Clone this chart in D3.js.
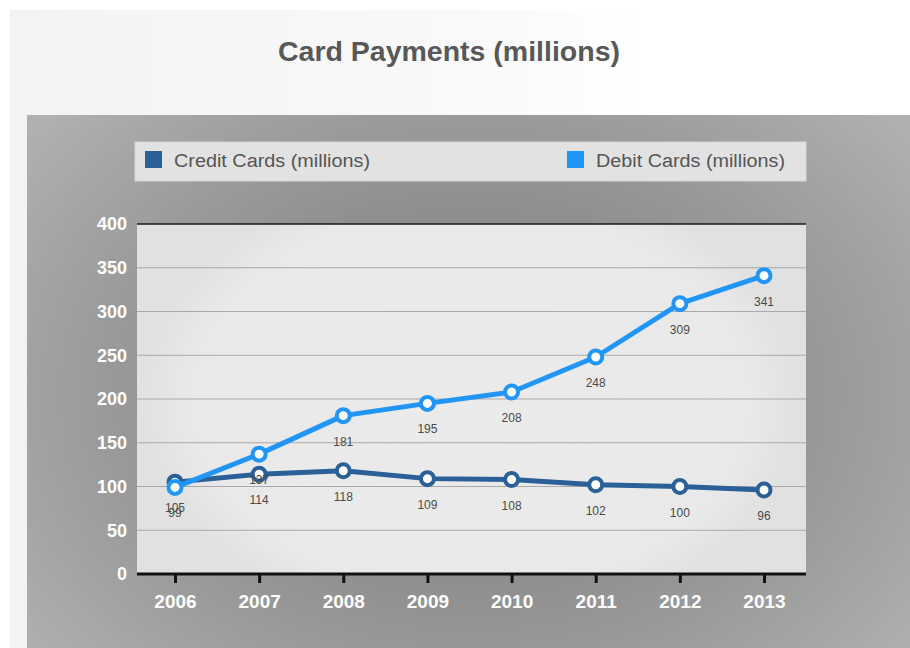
<!DOCTYPE html>
<html>
<head>
<meta charset="utf-8">
<script src="https://cdn.jsdelivr.net/npm/d3@7"></script>
<style>
  html, body { margin: 0; padding: 0; background: #fff; }
  svg { display: block; font-family: "Liberation Sans", Arial, sans-serif; }
</style>
</head>
<body>
<script>
// chart data
const years = ["2006", "2007", "2008", "2009", "2010", "2011", "2012", "2013"];
const creditCards = [105, 114, 118, 109, 108, 102, 100, 96];
const debitCards = [99, 137, 181, 195, 208, 248, 309, 341];
const yTicks = [0, 50, 100, 150, 200, 250, 300, 350, 400];
const seriesNames = ["Credit Cards (millions)", "Debit Cards (millions)"];
const seriesColors = ["#2b5f98", "#2196f7"];

const width = 910, height = 648;
const svg = d3.select(document.body).append("svg")
    .attr("width", width)
    .attr("height", height);

const defs = svg.append("defs");

const pageGrad = defs.append("linearGradient").attr("id", "pageGrad")
    .attr("x1", "0").attr("x2", "1").attr("y1", "0").attr("y2", "0");
pageGrad.append("stop").attr("offset", "0").attr("stop-color", "#f3f3f3");
pageGrad.append("stop").attr("offset", "0.55").attr("stop-color", "#fafafa");
pageGrad.append("stop").attr("offset", "0.7").attr("stop-color", "#ffffff");

const panelGrad = defs.append("radialGradient").attr("id", "panelGrad")
    .attr("gradientUnits", "userSpaceOnUse")
    .attr("cx", 470).attr("cy", 395).attr("r", 560)
    .attr("gradientTransform", "translate(470,395) scale(1,0.75) translate(-470,-395)");
[[0, "#8a8a8a"], [0.45, "#8f8f8f"], [0.62, "#989898"], [0.8, "#a3a3a3"], [1, "#b0b0b0"]]
    .forEach(([o, c]) => panelGrad.append("stop").attr("offset", o).attr("stop-color", c));

const plotGrad = defs.append("radialGradient").attr("id", "plotGrad")
    .attr("gradientUnits", "userSpaceOnUse")
    .attr("cx", 470).attr("cy", 400).attr("r", 330)
    .attr("gradientTransform", "translate(470,400) scale(1,0.7) translate(-470,-400)");
[[0, "#ebebeb"], [0.85, "#e9e9e9"], [1, "#e1e1e1"]]
    .forEach(([o, c]) => plotGrad.append("stop").attr("offset", o).attr("stop-color", c));

// page and panel backgrounds
svg.append("rect").attr("x", 10).attr("y", 10).attr("width", 900).attr("height", 640)
    .attr("fill", "url(#pageGrad)");
svg.append("rect").attr("x", 27).attr("y", 115).attr("width", 890).attr("height", 540)
    .attr("fill", "url(#panelGrad)");

// title
svg.append("text")
    .attr("x", 449).attr("y", 61)
    .attr("text-anchor", "middle")
    .attr("font-size", 28).attr("font-weight", "bold")
    .attr("fill", "#585858")
    .attr("textLength", 342).attr("lengthAdjust", "spacingAndGlyphs")
    .text("Card Payments (millions)");

// legend
const legend = svg.append("g");
legend.append("rect").attr("x", 135).attr("y", 142).attr("width", 671).attr("height", 39)
    .attr("fill", "#e2e2e2").attr("stroke", "#d6d6d6");
const legendX = [145, 567];
const legendW = [196, 189];
seriesNames.forEach((name, i) => {
    legend.append("rect").attr("x", legendX[i]).attr("y", 151).attr("width", 17).attr("height", 17)
        .attr("fill", seriesColors[i]);
    legend.append("text").attr("x", legendX[i] + 29).attr("y", 167)
        .attr("font-size", 18).attr("fill", "#555")
        .attr("textLength", legendW[i]).attr("lengthAdjust", "spacingAndGlyphs")
        .text(name);
});

// scales
const plotLeft = 137, plotRight = 806, plotTop = 224, plotBottom = 574;
const x = d3.scalePoint().domain(years).range([175, 764]);
const y = d3.scaleLinear().domain([0, 400]).range([plotBottom, plotTop]);

svg.append("rect").attr("x", plotLeft).attr("y", plotTop)
    .attr("width", plotRight - plotLeft).attr("height", plotBottom - plotTop)
    .attr("fill", "url(#plotGrad)");

// gridlines
svg.append("g").selectAll("line")
    .data(yTicks.filter(d => d > 0 && d < 400))
    .join("line")
    .attr("x1", plotLeft).attr("x2", plotRight)
    .attr("y1", d => y(d)).attr("y2", d => y(d))
    .attr("stroke", "#a9a9a9").attr("stroke-width", 1.2);
svg.append("line").attr("x1", plotLeft).attr("x2", plotRight)
    .attr("y1", y(400)).attr("y2", y(400))
    .attr("stroke", "#1a1a1a").attr("stroke-width", 1.5);

// y axis labels
const yAxis = svg.append("g")
    .attr("transform", `translate(${plotLeft},0)`)
    .call(d3.axisLeft(y).tickValues(yTicks).tickSize(0).tickPadding(10));
yAxis.select(".domain").remove();
yAxis.selectAll("text")
    .attr("font-family", "Liberation Sans, Arial, sans-serif")
    .attr("font-size", 18).attr("font-weight", "bold").attr("fill", "#fff");

// x axis
const xAxis = svg.append("g")
    .attr("transform", `translate(0,${plotBottom})`)
    .call(d3.axisBottom(x).tickSize(9).tickPadding(12).tickSizeOuter(0));
xAxis.select(".domain")
    .attr("d", `M${plotLeft},0H${plotRight}`)
    .attr("stroke", "#111").attr("stroke-width", 3);
xAxis.selectAll(".tick line").attr("stroke", "#111").attr("stroke-width", 3);
xAxis.selectAll("text")
    .attr("font-family", "Liberation Sans, Arial, sans-serif")
    .attr("font-size", 19).attr("font-weight", "bold").attr("fill", "#fff");

// series lines and markers
const line = d3.line().x((d, i) => x(years[i])).y(d => y(d));
[creditCards, debitCards].forEach((values, s) => {
    const g = svg.append("g");
    g.append("path").datum(values)
        .attr("d", line)
        .attr("fill", "none")
        .attr("stroke", seriesColors[s])
        .attr("stroke-width", 5)
        .attr("stroke-linejoin", "round");
    g.selectAll("circle").data(values).join("circle")
        .attr("cx", (d, i) => x(years[i]))
        .attr("cy", d => y(d))
        .attr("r", 6.5)
        .attr("fill", "#fff")
        .attr("stroke", seriesColors[s])
        .attr("stroke-width", 4);
});

// data labels
[creditCards, debitCards].forEach(values => {
    svg.append("g").selectAll("text").data(values).join("text")
        .attr("x", (d, i) => x(years[i]))
        .attr("y", d => y(d) + 30)
        .attr("text-anchor", "middle")
        .attr("font-size", 12)
        .attr("fill", "#4a4a4a")
        .text(d => d);
});
</script>
</body>
</html>
